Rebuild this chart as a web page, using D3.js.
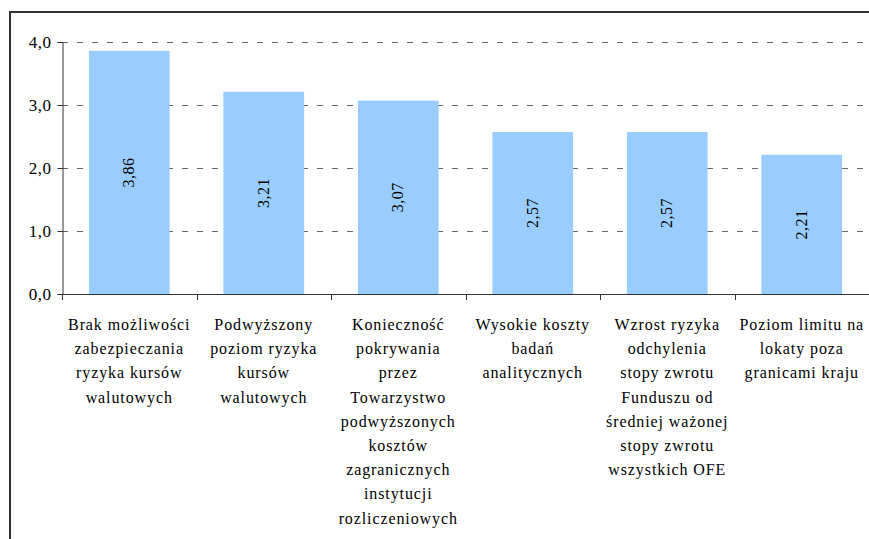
<!DOCTYPE html>
<html><head><meta charset="utf-8">
<script src="https://cdn.jsdelivr.net/npm/d3@7"></script>
<style>body{margin:0;background:#fff}svg{display:block}
svg text{font-family:"Liberation Serif","DejaVu Serif","Times New Roman",Times,serif;}</style>
</head><body>
<svg id="c" width="869" height="539"></svg>
<script>
const categories = [
  "Brak możliwości zabezpieczania ryzyka kursów walutowych",
  "Podwyższony poziom ryzyka kursów walutowych",
  "Konieczność pokrywania przez Towarzystwo podwyższonych kosztów zagranicznych instytucji rozliczeniowych",
  "Wysokie koszty badań analitycznych",
  "Wzrost ryzyka odchylenia stopy zwrotu Funduszu od średniej ważonej stopy zwrotu wszystkich OFE",
  "Poziom limitu na lokaty poza granicami kraju"
];
const labelLines = [
  ["Brak możliwości","zabezpieczania","ryzyka kursów","walutowych"],
  ["Podwyższony","poziom ryzyka","kursów","walutowych"],
  ["Konieczność","pokrywania","przez","Towarzystwo","podwyższonych","kosztów","zagranicznych","instytucji","rozliczeniowych"],
  ["Wysokie koszty","badań","analitycznych"],
  ["Wzrost ryzyka","odchylenia","stopy zwrotu","Funduszu od","średniej ważonej","stopy zwrotu","wszystkich OFE"],
  ["Poziom limitu na","lokaty poza","granicami kraju"]
];
const values = [3.86, 3.21, 3.07, 2.57, 2.57, 2.21];
const yTicks = [0, 1, 2, 3, 4];

const svg = d3.select("#c");

// outer border
svg.append("rect").attr("x",10).attr("y",12).attr("width",880).attr("height",560)
  .attr("fill","none").attr("stroke","#333").attr("stroke-width",2);

const x = d3.scaleBand().domain(categories).range([62, 869]).paddingInner(0.4).paddingOuter(0.2);
const y = d3.scaleLinear().domain([0, 4]).range([294, 42]);

// gridlines
svg.append("g").selectAll("line").data(yTicks.filter(d=>d>0)).join("line")
  .attr("x1",62).attr("x2",869).attr("y1",d=>Math.round(y(d))+0.5).attr("y2",d=>Math.round(y(d))+0.5)
  .attr("stroke","#666").attr("stroke-dasharray","6,9");

// bars
svg.append("g").selectAll("rect").data(values).join("rect")
  .attr("x",(d,i)=>x(categories[i])).attr("width",x.bandwidth())
  .attr("y",d=>y(d)).attr("height",d=>y(0)-y(d)).attr("fill","#99CCFF");

// value labels
svg.append("g").selectAll("text").data(values).join("text")
  .attr("transform",(d,i)=>`translate(${x(categories[i])+x.bandwidth()/2+5},${(y(d)+y(0))/2}) rotate(-90)`)
  .attr("text-anchor","middle").attr("font-size",16).attr("letter-spacing",0.5).attr("fill","#000")
  .text(d=>d.toFixed(2).replace(".",","));

// y axis
const yAxis = d3.axisLeft(y).tickValues(yTicks).tickSize(5).tickPadding(6)
  .tickFormat(d=>d.toFixed(1).replace(".",","));
const gy = svg.append("g").attr("transform","translate(62.5,0)").call(yAxis);
gy.select(".domain").attr("stroke","#333");
gy.selectAll(".tick line").attr("stroke","#333");
gy.selectAll("text").attr("font-size",17).attr("letter-spacing",0.5).attr("fill","#000");

// x axis line and boundary ticks
const bounds = categories.map(c=>x(c)-x.step()*x.paddingInner()/2).concat([869]);
svg.append("line").attr("x1",62).attr("x2",869).attr("y1",294.5).attr("y2",294.5).attr("stroke","#333");
svg.append("g").selectAll("line").data(bounds).join("line")
  .attr("x1",d=>Math.round(d)+0.5).attr("x2",d=>Math.round(d)+0.5).attr("y1",294).attr("y2",300)
  .attr("stroke","#333");

// category labels
const lg = svg.append("g").attr("font-size",16).attr("letter-spacing",0.9).attr("fill","#000").attr("text-anchor","middle");
labelLines.forEach((lines,i)=>{
  const cx = x(categories[i])+x.bandwidth()/2;
  const t = lg.append("text").attr("x",cx).attr("y",330);
  lines.forEach((l,j)=>t.append("tspan").attr("x",cx).attr("y",330+j*24.2).text(l));
});
</script>
</body></html>
